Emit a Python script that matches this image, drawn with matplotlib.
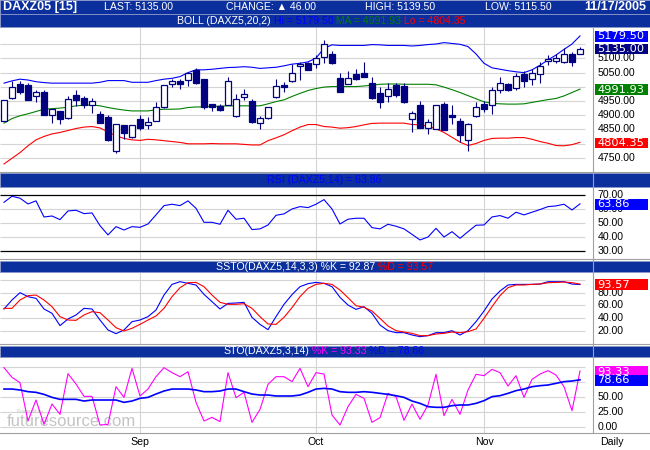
#!/usr/bin/env python3
"""DAXZ05 daily chart: Bollinger candles, RSI, slow and fast stochastics."""

import numpy as np
import matplotlib
matplotlib.use("Agg")
import matplotlib.pyplot as plt
from matplotlib.patches import Rectangle

plt.rcParams["font.family"] = ["Liberation Sans", "DejaVu Sans"]

# ── data (one value per trading day, 9 Aug .. 17 Nov 2005) ──
OPEN = [4880, 4960, 5010, 5007, 4967, 4982, 4900, 4915, 4891, 4970,
        4960, 4935, 4903, 4893, 4773, 4865, 4822, 4886, 4867, 4880,
        4928, 5009, 5021, 5024, 5058, 5028, 4940, 4934, 4937, 4896,
        4963, 4950, 4872, 4889, 4963, 5006, 5020, 5074, 5085, 5080,
        5104, 5115, 5030, 5011, 5045, 5047, 5014, 4979, 4967, 5007,
        5003, 4888, 4936, 4856, 4853, 4940, 4901, 4881, 4812, 4896,
        4940, 4935, 4988, 5010, 4997, 5045, 5029, 5044, 5090, 5090,
        5087, 5115, 5116]
HIGH = [4955, 5022, 5021, 5013, 4989, 4989, 4921, 4915, 4966, 4989,
        4966, 4960, 4915, 4901, 4868, 4865, 4866, 4899, 4892, 4947,
        5007, 5028, 5028, 5050, 5068, 5028, 4940, 4940, 5033, 4975,
        4993, 4956, 4898, 4930, 5028, 5016, 5080, 5089, 5089, 5112,
        5165, 5125, 5050, 5056, 5064, 5087, 5036, 5001, 5013, 5015,
        5015, 4915, 4950, 4886, 4937, 4947, 4936, 4889, 4872, 4947,
        4950, 4999, 5033, 5013, 5047, 5056, 5062, 5087, 5112, 5115,
        5137, 5122, 5139.5]
LOW = [4878, 4958, 4976, 4953, 4948, 4900, 4874, 4868, 4887, 4933,
       4926, 4909, 4872, 4810, 4765, 4817, 4820, 4846, 4851, 4878,
       4926, 4999, 4993, 5003, 5011, 4923, 4913, 4913, 4935, 4894,
       4952, 4873, 4851, 4887, 4959, 4980, 5018, 5024, 5058, 5067,
       5083, 5081, 4981, 5009, 5024, 5034, 4956, 4927, 4948, 4963,
       4943, 4839, 4854, 4835, 4851, 4846, 4868, 4804, 4775, 4894,
       4912, 4903, 4977, 4986, 4988, 5001, 5008, 5013, 5076, 5083,
       5085, 5073, 5115.5]
CLOSE = [4953, 4999, 4980, 4955, 4981, 4902, 4921, 4888, 4956, 4952,
         4935, 4949, 4874, 4812, 4868, 4837, 4865, 4856, 4876, 4928,
         5006, 5020, 5011, 5048, 5013, 4928, 4928, 4920, 5020, 4956,
         4974, 4875, 4889, 4928, 5002, 4999, 5048, 5081, 5061, 5102,
         5150, 5083, 4983, 5030, 5029, 5036, 4959, 4945, 4991, 4972,
         4945, 4907, 4856, 4875, 4935, 4848, 4892, 4830, 4868, 4928,
         4923, 4988, 5013, 4988, 5037, 5020, 5048, 5073, 5097, 5101,
         5115, 5089, 5135]

BB_HI = [5013, 5021, 5027, 5024, 5018, 5015, 5013, 5013, 5013, 5013,
         5013, 5013, 5016, 5022, 5022, 5022, 5016, 5016, 5016, 5022,
         5027, 5030, 5036, 5050, 5060, 5060, 5062, 5065, 5068, 5069,
         5071, 5069, 5065, 5067, 5069, 5074, 5080, 5083, 5088, 5101,
         5136, 5148, 5146, 5146, 5146, 5146, 5149, 5148, 5146, 5146,
         5146, 5144, 5146, 5149, 5151, 5156, 5153, 5150, 5142, 5116,
         5083, 5067, 5062, 5057, 5053, 5050, 5060, 5076, 5095, 5112,
         5132, 5151, 5179.50]
BB_MA = [4872, 4888, 4898, 4905, 4913, 4921, 4923, 4925, 4928, 4933,
         4935, 4936, 4933, 4927, 4922, 4918, 4915, 4915, 4915, 4919,
         4921, 4921, 4922, 4927, 4929, 4929, 4931, 4932, 4933, 4933,
         4933, 4933, 4933, 4940, 4948, 4954, 4966, 4977, 4987, 4994,
         4999, 5001, 5001, 5001, 5001, 5003, 5006, 5009, 5010, 5010,
         5009, 5009, 5009, 5009, 5007, 4999, 4990, 4980, 4969, 4958,
         4947, 4942, 4940, 4939, 4939, 4940, 4945, 4950, 4955, 4959,
         4968, 4980, 4991.93]
BB_LO = [4728, 4748, 4768, 4792, 4813, 4825, 4834, 4839, 4846, 4853,
         4858, 4860, 4855, 4841, 4827, 4818, 4813, 4811, 4815, 4813,
         4810, 4807, 4804, 4799, 4799, 4799, 4800, 4799, 4799, 4799,
         4797, 4795, 4795, 4810, 4820, 4831, 4845, 4858, 4867, 4867,
         4860, 4858, 4854, 4856, 4860, 4866, 4871, 4872, 4872, 4872,
         4872, 4867, 4866, 4861, 4852, 4839, 4822, 4805, 4793, 4800,
         4811, 4818, 4819, 4819, 4821, 4821, 4815, 4807, 4801, 4793,
         4792, 4796, 4804.35]

RSI = [65.0, 69.3, 67.9, 63.8, 66.0, 54.5, 55.2, 52.6, 58.8, 59.3,
       56.9, 57.4, 48.3, 41.7, 47.6, 45.2, 47.6, 47.1, 49.5, 56.0,
       62.6, 63.6, 62.6, 66.0, 60.7, 50.7, 50.7, 49.3, 59.3, 52.9,
       53.6, 45.5, 46.0, 48.8, 55.7, 56.7, 60.2, 61.9, 61.2, 63.6,
       66.9, 60.2, 49.5, 52.9, 53.6, 53.6, 46.9, 46.0, 49.3, 47.9,
       46.0, 42.1, 38.1, 40.2, 46.4, 40.2, 44.0, 39.3, 44.0, 48.6,
       48.8, 54.5, 55.5, 53.6, 57.9, 56.0, 57.9, 59.8, 61.9, 62.4,
       63.6, 59.5, 63.86]

SSTO_K = [54.5, 68.6, 80.1, 73.8, 71.2, 54.5, 47.7, 28.4, 38.8, 45.1,
          55.5, 54.5, 37.2, 21.6, 15.8, 21.6, 34.6, 37.2, 42.5, 52.9,
          76.4, 93.1, 97.3, 94.7, 92.1, 77.4, 66.0, 54.5, 63.3, 63.9,
          64.9, 41.4, 30.4, 22.1, 42.5, 61.8, 77.0, 89.5, 94.2, 96.2,
          94.7, 89.5, 72.7, 60.7, 53.9, 58.1, 47.7, 29.4, 20.5, 17.4,
          17.4, 13.7, 11.1, 12.7, 17.4, 17.4, 20.5, 13.7, 20.5, 34.6,
          51.3, 70.1, 82.7, 92.1, 93.1, 93.1, 93.1, 93.6, 97.3, 97.3,
          97.3, 93.6, 92.87]
SSTO_D = [55.5, 55.5, 68.6, 75.4, 76.4, 68.6, 58.1, 42.5, 37.2, 36.7,
          45.1, 50.3, 48.7, 37.2, 25.2, 20.0, 24.2, 30.4, 37.2, 43.5,
          55.5, 73.8, 87.9, 95.7, 96.2, 89.5, 76.4, 64.9, 61.8, 61.8,
          62.8, 55.5, 42.5, 31.0, 30.4, 41.4, 56.6, 73.8, 86.8, 93.1,
          94.7, 93.1, 84.2, 72.2, 59.7, 57.1, 51.3, 39.8, 27.8, 20.5,
          18.4, 16.3, 12.7, 12.7, 15.3, 16.3, 18.4, 17.4, 19.0, 23.1,
          39.8, 58.1, 75.4, 87.9, 92.1, 92.1, 93.1, 93.6, 95.7, 96.2,
          96.8, 95.7, 93.57]

STO_K = [98.9, 82.8, 73.9, 10.0, 45.0, 4.4, 38.3, 21.1, 88.9, 71.7,
         51.1, 51.1, 3.3, 4.4, 67.2, 49.4, 97.8, 51.7, 63.3, 83.9,
         98.9, 90.6, 83.9, 92.2, 41.1, 10.0, 16.1, 8.9, 90.6, 48.9,
         57.8, 7.8, 29.4, 71.1, 83.9, 83.9, 75.6, 97.8, 67.2, 90.6,
         88.3, 20.0, 3.3, 33.9, 54.4, 47.8, 7.8, 15.6, 56.1, 50.6,
         11.1, 38.3, 12.8, 36.7, 87.8, 18.9, 46.1, 21.1, 61.7, 87.8,
         85.6, 96.1, 90.6, 68.3, 85.6, 49.4, 79.4, 88.3, 93.9, 86.7,
         67.2, 27.2, 93.33]
STO_D = [63.3, 63.3, 61.7, 58.9, 57.8, 54.4, 49.4, 46.1, 46.1, 46.1,
         43.3, 45.0, 45.0, 45.0, 45.0, 41.1, 43.3, 47.8, 49.4, 55.0,
         60.0, 63.3, 63.3, 63.3, 61.7, 58.9, 58.9, 60.0, 63.3, 63.3,
         58.9, 55.0, 53.3, 53.3, 51.7, 51.7, 51.7, 53.3, 57.8, 63.3,
         64.4, 63.3, 58.9, 57.8, 57.8, 58.9, 57.8, 56.1, 54.4, 52.2,
         49.4, 43.3, 39.4, 33.9, 32.8, 32.8, 35.6, 36.7, 36.7, 39.4,
         43.9, 50.6, 52.2, 56.1, 60.6, 63.3, 67.2, 68.9, 70.0, 72.8,
         75.6, 76.7, 78.66]

MONTH_IDX = [17, 39, 60]
MONTH_LABELS = ["Sep", "Oct", "Nov"]

PRICE_GRID = [4750, 4800, 4850, 4900, 4950, 5000, 5050, 5100, 5150]
PRICE_LABELS = [5100, 5050, 4950, 4900, 4850, 4750]
RSI_GRID = [40, 50, 60]
RSI_LINES = [30, 70]
RSI_LABELS = [70, 60, 50, 40, 30]
SSTO_GRID = [20, 40, 60, 80, 100]
SSTO_LABELS = [80, 60, 40, 20]
STO_GRID = [0, 25, 50, 75, 100]
STO_LABELS = [50, 25, 0]

# ── layout (pixels, from the top) ──
W, H = 650, 450
PLOT_W = 593
GRID_END = 585
PX_BAR = 8.0
BAR_BLUE = "#0c2f9e"
GRID = "#d4d4d4"
EDGE = "#a0a0a0"
NAVY = "#000080"
BLUE = "#0000ff"
GREEN = "#008000"
RED = "#ff0000"
MAGENTA = "#ff00ff"
FS = 7.6

PANELS = {
    "price": (27, 172, (4699.6, 5211.0)),
    "rsi": (187, 259, (24.5, 75.9)),
    "ssto": (272, 344, (-0.4, 112.5)),
    "sto": (357, 433, (-10.0, 116.7)),
}


def px2x(px):
    return px / PX_BAR - 0.5


def vy(name, v):
    top, bottom, (lo, hi) = PANELS[name]
    return top + (hi - v) / (hi - lo) * (bottom - top)


fig = plt.figure(figsize=(W / 100, H / 100), dpi=100)
idx = np.arange(len(CLOSE))


def panel(name, hgrid):
    top, bottom, ylim = PANELS[name]
    ax = fig.add_axes([0, 1 - bottom / H, PLOT_W / W, (bottom - top) / H])
    ax.set_xlim(px2x(0), px2x(PLOT_W))
    ax.set_ylim(*ylim)
    ax.axis("off")
    ax.hlines(hgrid, px2x(0), px2x(GRID_END), color=GRID, lw=0.8, zorder=0)
    ax.vlines(MONTH_IDX, *ylim, color=GRID, lw=0.8, zorder=0)
    return ax


# price + bollinger
ax = panel("price", PRICE_GRID)
o, h, l, c = map(np.asarray, (OPEN, HIGH, LOW, CLOSE))
up = c >= o
ax.vlines(idx, l, h, color=NAVY, lw=0.8, zorder=2)
ax.plot(idx, BB_HI, color=BLUE, lw=0.8, zorder=1)
ax.plot(idx, BB_MA, color=GREEN, lw=0.8, zorder=1)
ax.plot(idx, BB_LO, color=RED, lw=0.8, zorder=1)
body_lo = np.minimum(o, c)
body_h = np.maximum(np.abs(c - o), 1.5)
ax.bar(idx[up], body_h[up], bottom=body_lo[up], width=0.72,
       facecolor="white", edgecolor=NAVY, lw=0.9, zorder=3)
ax.bar(idx[~up], body_h[~up], bottom=body_lo[~up], width=0.72,
       facecolor=NAVY, edgecolor=NAVY, lw=0.9, zorder=3)

# rsi
ax = panel("rsi", RSI_GRID)
ax.hlines(RSI_LINES, px2x(0), px2x(GRID_END), color="black", lw=0.9, zorder=1)
ax.plot(idx, RSI, color=BLUE, lw=0.8, zorder=2)

# slow stochastic
ax = panel("ssto", SSTO_GRID)
ax.plot(idx, SSTO_K, color=BLUE, lw=0.8, zorder=2)
ax.plot(idx, SSTO_D, color=RED, lw=0.8, zorder=2)

# fast stochastic
ax_sto = panel("sto", STO_GRID)
ax_sto.plot(idx, STO_K, color=MAGENTA, lw=0.8, zorder=2)
ax_sto.plot(idx, STO_D, color=BLUE, lw=1.2, zorder=3)

# ── overlay in pixel coordinates ──
ov = fig.add_axes([0, 0, 1, 1], zorder=10)
ov.set_xlim(0, W)
ov.set_ylim(H, 0)
ov.axis("off")

# watermark sits under the stochastic lines
ax_sto.text(7, 421, "futuresource.com", transform=ov.transData, fontsize=12,
            color="#c4c4c4", va="center", ha="left", zorder=1)
ax_sto.text(17, 411, "Powered by", transform=ov.transData, fontsize=3.5,
            color="#c4c4c4", va="center", ha="left", zorder=1)

# panel borders
for name in PANELS:
    top, bottom, _ = PANELS[name]
    ov.plot([0, W], [bottom, bottom], color=EDGE, lw=0.8)
ov.plot([PLOT_W, PLOT_W], [27, 433], color=EDGE, lw=0.8)

# title bars
for y0, y1 in [(0, 13.5), (14, 27), (173, 187), (260.5, 272), (345.5, 357)]:
    ov.add_patch(Rectangle((0, y0), W, y1 - y0, facecolor=BAR_BLUE,
                           edgecolor="#8a98c8", lw=0.6))


def chain(x, y, parts, ha="left"):
    t = ov.text(x, y, parts[0][0], color=parts[0][1], fontsize=FS,
                va="center", ha=ha)
    for s, col in parts[1:]:
        t = ov.annotate(s, xy=(1, 0.5), xycoords=t, color=col, fontsize=FS,
                        va="center", ha="left")


# header
last, prev = CLOSE[-1], CLOSE[-2]
ov.text(3, 7, "DAXZ05 [15]", color="white", fontsize=9, fontweight="bold",
        va="center")
ov.text(104, 7, f"LAST: {last:.2f}", color="white", fontsize=FS, va="center")
ov.text(226, 7, f"CHANGE: \u25b2 {last - prev:.2f}", color="white",
        fontsize=FS, va="center")
ov.text(365, 7, f"HIGH: {HIGH[-1]:.2f}", color="white", fontsize=FS,
        va="center")
ov.text(485, 7, f"LOW: {LOW[-1]:.2f}", color="white", fontsize=FS,
        va="center")
ov.text(646, 7, "11/17/2005", color="white", fontsize=9, fontweight="bold",
        va="center", ha="right")

chain(177, 20.5, [("BOLL (DAXZ5,20,2)", "white"),
                  (f" Hi = {BB_HI[-1]:.2f}", BLUE),
                  (f" MA = {BB_MA[-1]:.2f}", GREEN),
                  (f" Lo = {BB_LO[-1]:.2f}", RED)])
chain(324, 180, [(f"RSI (DAXZ5,14) = {RSI[-1]:.2f}", BLUE)], ha="center")
chain(216, 266.5, [(f"SSTO(DAXZ5,14,3,3) %K = {SSTO_K[-1]:.2f}", "white"),
                   (f" %D = {SSTO_D[-1]:.2f}", RED)])
chain(223, 351.5, [("STO(DAXZ5,3,14)", "white"),
                   (f" %K = {STO_K[-1]:.2f}", MAGENTA),
                   (f" %D = {STO_D[-1]:.2f}", BLUE)])

# right-hand scale labels (value boxes are drawn over them, as in the source)
for name, labels in [("price", PRICE_LABELS), ("rsi", RSI_LABELS),
                     ("ssto", SSTO_LABELS), ("sto", STO_LABELS)]:
    for v in labels:
        ov.text(597.5, vy(name, v), f"{v:.2f}", fontsize=FS, va="center",
                color="black", zorder=1)


def value_box(name, v, color):
    y = vy(name, v) + 0.5
    ov.add_patch(Rectangle((595, y - 5.2), 53, 10.4, facecolor=color,
                           edgecolor="none", zorder=4))
    ov.text(597.5, y, f"{v:.2f}", fontsize=8.2, color="white", va="center",
            family="DejaVu Sans", zorder=5)


value_box("price", BB_HI[-1], BLUE)
value_box("price", CLOSE[-1], NAVY)
value_box("price", BB_MA[-1], GREEN)
value_box("price", BB_LO[-1], RED)
value_box("rsi", RSI[-1], BLUE)
value_box("ssto", SSTO_D[-1], RED)
value_box("sto", STO_K[-1], MAGENTA)
value_box("sto", STO_D[-1], BLUE)

# time axis
for i, lab in zip(MONTH_IDX, MONTH_LABELS):
    ov.text((i + 0.5) * PX_BAR, 442, lab, fontsize=FS, ha="center",
            va="center")
ov.text(612, 442, "Daily", fontsize=FS, ha="center", va="center")

fig.savefig("out.png", dpi=100, facecolor="white")
